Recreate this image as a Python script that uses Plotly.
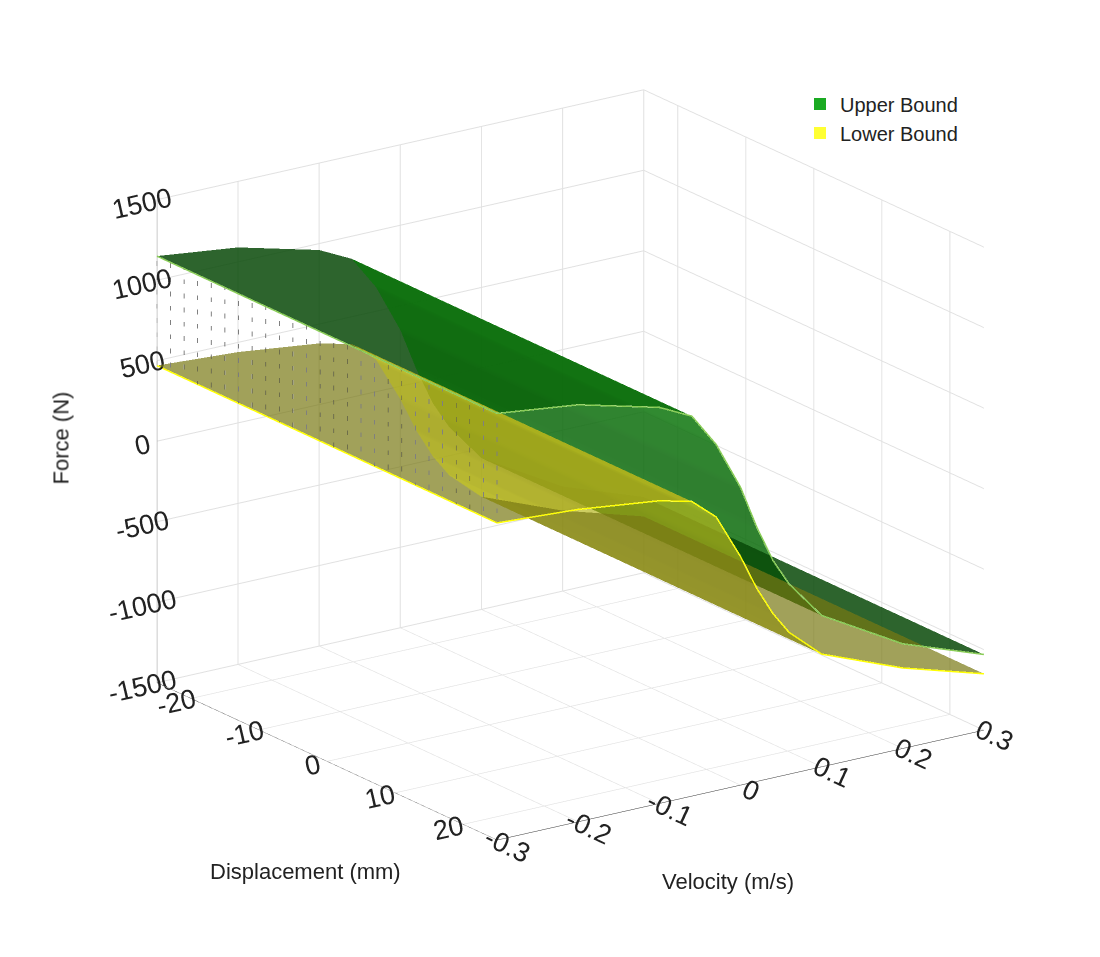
import plotly.graph_objects as go

velocity = [-0.3, -0.2, -0.1, -0.06, -0.03, 0.0, 0.02, 0.04, 0.06, 0.1, 0.2, 0.3]
displacement = [-25, 0, 25]
upper_by_velocity = [1150, 1090, 960, 860, 650, 350, 80, -150, -320, -560, -850, -1030]
lower_by_velocity = [470, 440, 380, 330, 200, -80, -300, -480, -620, -800, -1000, -1150]
dot_displacements = list(range(-25, 26, 2))

upper_force = [upper_by_velocity for _ in displacement]
lower_force = [lower_by_velocity for _ in displacement]

fig = go.Figure()
fig.add_trace(go.Surface(x=velocity, y=displacement, z=upper_force, name="Upper Bound",
                         colorscale=[[0, "#0d7a0d"], [1, "#0d7a0d"]], showscale=False,
                         opacity=0.85, showlegend=False,
                         lighting=dict(ambient=0.6, diffuse=0.5, specular=0.0)))
fig.add_trace(go.Surface(x=velocity, y=displacement, z=lower_force, name="Lower Bound",
                         colorscale=[[0, "#c8c820"], [1, "#c8c820"]], showscale=False,
                         opacity=0.7, showlegend=False,
                         lighting=dict(ambient=0.6, diffuse=0.5, specular=0.0)))
for zvals, col in [(upper_by_velocity, "#88cc55"), (lower_by_velocity, "#ffff00")]:
    fig.add_trace(go.Scatter3d(x=velocity, y=[25] * len(velocity), z=zvals, mode="lines",
                               line=dict(color=col, width=3), showlegend=False, hoverinfo="skip"))
    fig.add_trace(go.Scatter3d(x=[-0.3, -0.3], y=[-25, 25], z=[zvals[0], zvals[0]], mode="lines",
                               line=dict(color=col, width=3), showlegend=False, hoverinfo="skip"))
dx, dy, dz = [], [], []
for d in dot_displacements:
    dx += [-0.3, -0.3, None]
    dy += [d, d, None]
    dz += [lower_by_velocity[0], upper_by_velocity[0], None]
fig.add_trace(go.Scatter3d(x=dx, y=dy, z=dz, mode="lines",
                           line=dict(color="#555", width=1.5, dash="dot"),
                           showlegend=False, hoverinfo="skip"))
fig.add_trace(go.Scatter3d(x=[None], y=[None], z=[None], mode="markers", name="Upper Bound",
                           marker=dict(symbol="square", size=14, color="#1aaa22")))
fig.add_trace(go.Scatter3d(x=[None], y=[None], z=[None], mode="markers", name="Lower Bound",
                           marker=dict(symbol="square", size=14, color="#ffff33")))

ax = dict(showbackground=False, gridcolor="#e0e0e0", linecolor="#333", showline=True,
          tickfont=dict(size=18, color="#222"), zeroline=False, showspikes=False, title=dict(text=""))
xt = [-0.3, -0.2, -0.1, 0, 0.1, 0.2, 0.3]
yt = [-20, -10, 0, 10, 20]
zt = [-1500, -1000, -500, 0, 500, 1000, 1500]
fig.update_layout(
    width=1100, height=957, paper_bgcolor="white",
    font=dict(family="Liberation Sans, Arial", size=18, color="#222"),
    margin=dict(l=0, r=0, t=0, b=0),
    legend=dict(x=0.72, y=0.92, font=dict(size=20), bordercolor="#fff", itemsizing="constant"),
    scene=dict(
        domain=dict(x=[0.036, 1.0], y=[0.03, 1.0]),
        xaxis=dict(ax, range=[-0.3, 0.3], tickvals=xt, ticktext=[f"{v:g}" for v in xt]),
        yaxis=dict(ax, range=[25, -25], tickvals=yt, ticktext=[str(v) for v in yt]),
        zaxis=dict(ax, range=[-1500, 1500], tickvals=zt, ticktext=[str(v) for v in zt]),
        aspectmode="manual", aspectratio=dict(x=1.28, y=1.28, z=1.1),
        camera=dict(eye=dict(x=-1.07, y=-1.56, z=0.63), center=dict(x=0.02, y=0, z=-0.02),
                    projection=dict(type="orthographic")),
    ),
    annotations=[
        dict(text="Force (N)", x=38, y=430, showarrow=False, textangle=-90, font=dict(size=22)),
        dict(text="Displacement (mm)", x=200, y=878, showarrow=False, font=dict(size=22)),
        dict(text="Velocity (m/s)", x=788, y=888, showarrow=False, font=dict(size=22)),
    ],
)
for a in fig.layout.annotations:
    a.xref = "paper"; a.yref = "paper"
    a.x = a.x / 1100; a.y = 1 - a.y / 957
fig.write_html("out.html")
